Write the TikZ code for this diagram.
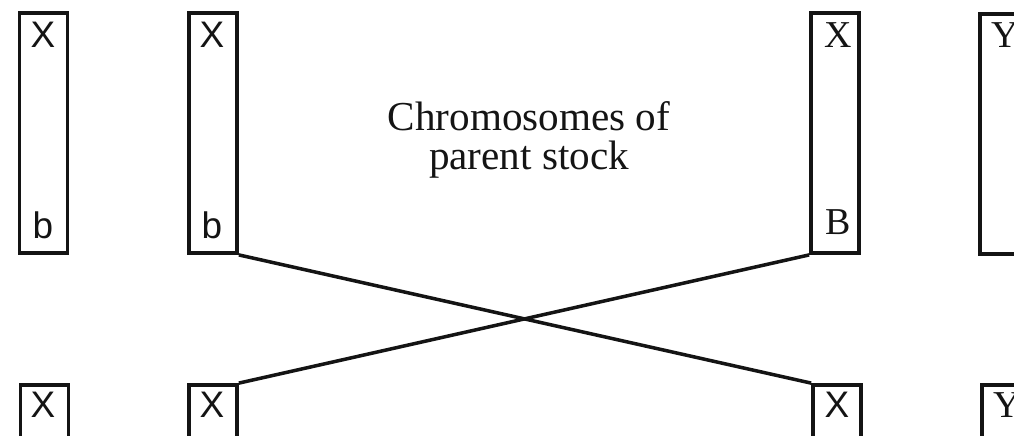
\documentclass[tikz,border=0pt]{standalone}
\usepackage{fontspec}
\setmainfont{Liberation Serif}
\setsansfont{Liberation Sans}
\usetikzlibrary{positioning}
\definecolor{StockInk}{HTML}{141414}
\tikzset{
  stock frame/.style={draw=StockInk, line width=1.05pt, rectangle, inner sep=0pt, minimum width=0.48cm},
  stock long/.style={stock frame, minimum height=2.40cm},
  stock stub/.style={stock frame, minimum height=1.60cm},
  stock gene/.style={font=\sffamily\fontsize{10.5}{12}\selectfont, text=StockInk, inner sep=0pt},
  stock serif gene/.style={font=\rmfamily\fontsize{10.8}{12}\selectfont, text=StockInk, inner sep=0pt},
  stock caption/.style={font=\rmfamily\fontsize{11.7}{11.1}\selectfont, text=StockInk, align=center, inner sep=0pt},
  stock cross/.style={draw=StockInk, line width=1.0pt},
}

\begin{document}
\begin{tikzpicture}[x=0.01cm,y=-0.01cm]
  \useasboundingbox (0,0) rectangle (1014,436);
  \clip (0,0) rectangle (1014,436);

  % parent chromosomes
  \node[stock long] (pa) at (43.5,133) {};
  \node[stock long] (pb) at (213,133) {};
  \node[stock long] (pc) at (835,133) {};
  \node[stock long] (pd) at (1004,134) {};

  \node[stock gene] (pax) at (43,35) {X};
  \node[stock gene] (pab) at (43,225) {b};
  \node[stock gene] (pbx) at (212,35) {X};
  \node[stock gene] (pbb) at (212,225) {b};
  \node[stock serif gene] (pcx) at (838,35) {X};
  \node[stock serif gene] (pcb) at (838,222) {B};
  \node[stock serif gene, anchor=west] (pdy) at (991,35) {Y};

  \node[stock caption] (title) at (529,140) {Chromosomes of\\parent stock};

  % offspring chromosomes
  \node[stock stub] (oa) at (44.5,465) {};
  \node[stock stub] (ob) at (213,465) {};
  \node[stock stub] (oc) at (837,465) {};
  \node[stock stub] (od) at (1006,465) {};

  \node[stock gene] (oax) at (43,405) {X};
  \node[stock gene] (obx) at (212,405) {X};
  \node[stock gene] (ocx) at (837,405) {X};
  \node[stock serif gene, anchor=west] (ody) at (993,405) {Y};

  \draw[stock cross] (pb.south east) -- (oc.north west);
  \draw[stock cross] (pc.south west) -- (ob.north east);
\end{tikzpicture}
\end{document}
